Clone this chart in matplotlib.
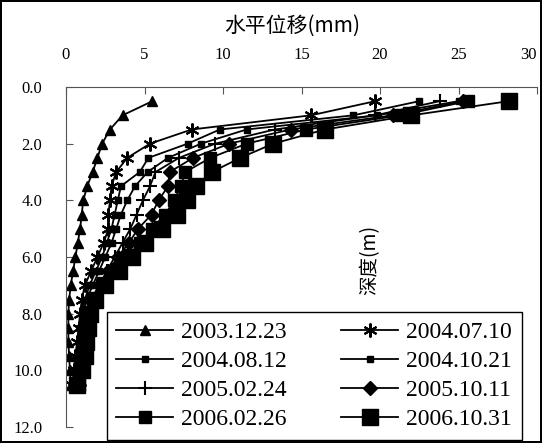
import numpy as np
import matplotlib
matplotlib.use("Agg")
import matplotlib.pyplot as plt

# =====================
# DATA
# =====================

depth = [0.5, 1.0, 1.5, 2.0, 2.5, 3.0, 3.5, 4.0, 4.5, 5.0, 5.5,
         6.0, 6.5, 7.0, 7.5, 8.0, 8.5, 9.0, 9.5, 10.0, 10.5]

d_20031223 = [5.5, 3.6, 2.8, 2.3, 2.0, 1.7, 1.35, 1.1, 1.0, 0.9, 0.75,
              0.6, 0.45, 0.3, 0.2, 0.15, 0.15, 0.15, 0.2, 0.25, 0.3]
d_20040710 = [19.7, 15.6, 8.0, 5.35, 3.9, 3.2, 2.9, 2.8, 2.7, 2.7, 2.4,
              2.0, 1.6, 1.2, 1.0, 0.9, 0.8, 0.7, 0.6, 0.5, 0.4]
d_20040812 = [22.5, 18.3, 9.8, 7.75, 5.25, 4.7, 3.5, 3.3, 3.1, 2.9, 2.6,
              2.3, 1.9, 1.5, 1.2, 1.0, 0.9, 0.8, 0.7, 0.6, 0.5]
d_20041021 = [25.0, 19.8, 11.5, 8.6, 6.5, 5.2, 4.4, 3.9, 3.5, 3.2, 2.9,
              2.5, 2.1, 1.7, 1.3, 1.1, 1.0, 0.9, 0.8, 0.7, 0.6]
d_20050224 = [23.8, 19.7, 13.3, 9.5, 7.2, 5.7, 5.35, 4.9, 4.5, 4.1, 3.6,
              3.1, 2.6, 2.1, 1.6, 1.3, 1.1, 1.0, 0.9, 0.8, 0.7]
d_20051011 = [25.3, 20.8, 14.3, 10.4, 8.1, 6.6, 6.5, 5.9, 5.45, 4.6, 4.0,
              3.3, 2.7, 2.2, 1.7, 1.4, 1.2, 1.1, 1.0, 0.9, 0.8]
d_20060226 = [25.6, 21.3, 15.3, 11.5, 9.2, 7.6, 7.3, 6.9, 6.3, 5.5, 4.7,
              3.9, 3.1, 2.3, 1.8, 1.5, 1.3, 1.2, 1.1, 1.0, 0.8]
d_20061031 = [28.2, 22.0, 16.5, 13.2, 11.1, 9.3, 8.3, 7.7, 7.05, 6.1, 5.0,
              4.2, 3.4, 2.5, 1.85, 1.5, 1.4, 1.3, 1.2, 1.0, 0.7]

labels = ["2003.12.23", "2004.07.10", "2004.08.12", "2004.10.21",
          "2005.02.24", "2005.10.11", "2006.02.26", "2006.10.31"]
series = [d_20031223, d_20040710, d_20040812, d_20041021,
          d_20050224, d_20051011, d_20060226, d_20061031]

xticks = [0, 5, 10, 15, 20, 25, 30]
yticks = [0, 2, 4, 6, 8, 10, 12]

# =====================
# STYLES
# =====================

styles = [
    dict(marker="^", ms=7),
    dict(marker=(6, 2, 0), ms=10, mew=1.5),
    dict(marker="s", ms=5),
    dict(marker="s", ms=4.5),
    dict(marker="+", ms=10, mew=1.5),
    dict(marker="D", ms=7),
    dict(marker="s", ms=8.5),
    dict(marker="s", ms=11),
]

num_font = "Liberation Serif"
cjk_font = ["Noto Sans CJK SC", "DejaVu Sans"]

# =====================
# PLOT
# =====================

fig = plt.figure(figsize=(5.42, 4.43), dpi=100)
fig.patch.set_edgecolor("black")
fig.patch.set_linewidth(1.5)

ax = fig.add_axes([66 / 542, 1 - 427 / 443, 471 / 542, 340 / 443])

handles = []
for vals, lab, st in zip(series, labels, styles):
    h, = ax.plot(vals, depth, color="black", lw=1.3,
                 mfc="black", mec="black", label=lab, **st)
    handles.append(h)

ax.set_xlim(0, 30)
ax.set_ylim(12, 0)
ax.set_xticks(xticks)
ax.set_yticks(yticks)
ax.set_xticklabels([str(v) for v in xticks])
ax.set_yticklabels(["%.1f" % v for v in yticks])

ax.xaxis.tick_top()
ax.tick_params(axis="x", direction="in", length=5, pad=17,
               labelsize=12, color="#555555")
ax.tick_params(axis="y", direction="in", length=5, pad=17,
               labelsize=12, color="#555555")
for lab in ax.get_xticklabels() + ax.get_yticklabels():
    lab.set_family(num_font)
ax.get_xticklabels()[-1].set_ha("right")

ax.spines["right"].set_visible(False)
ax.spines["bottom"].set_visible(False)
ax.spines["left"].set_color("#555555")
ax.spines["top"].set_color("#555555")

fig.text(292 / 542, 1 - 26 / 443, "水平位移(mm)", ha="center", va="center",
         fontsize=15, family=cjk_font)
fig.text(370 / 542, 1 - 260 / 443, "深度(m)", ha="center", va="center",
         rotation=90, fontsize=14, family=cjk_font)

# legend fills by column, so reorder to read row by row
order = [0, 2, 4, 6, 1, 3, 5, 7]
leg = fig.legend(
    handles=[handles[i] for i in order],
    labels=[labels[i] for i in order],
    ncol=2,
    loc="upper left",
    bbox_to_anchor=(107 / 542, 1 - 312 / 443),
    frameon=True,
    fancybox=False,
    edgecolor="black",
    framealpha=1,
    handlelength=2.4,
    handletextpad=0.35,
    columnspacing=2.3,
    labelspacing=0.32,
    borderpad=0.4,
    borderaxespad=0,
    prop={"family": num_font, "size": 17},
)
leg.get_frame().set_linewidth(1.0)

fig.savefig("out.png", dpi=100, edgecolor=fig.get_edgecolor())
